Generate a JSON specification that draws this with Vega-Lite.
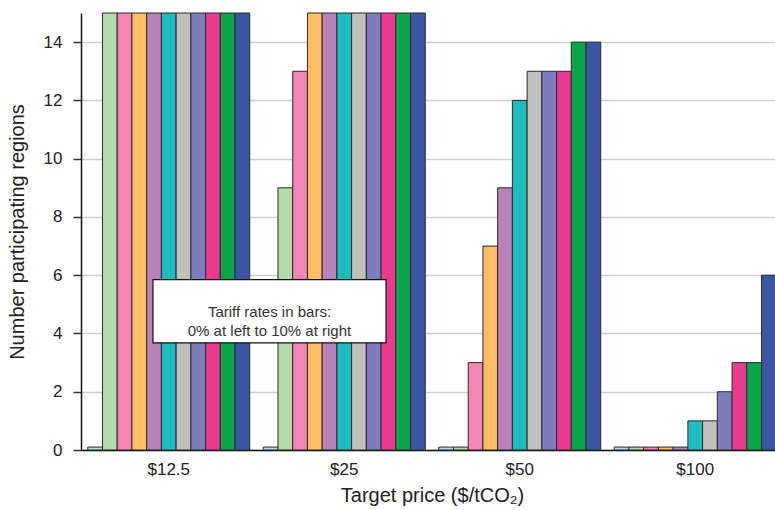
{
  "$schema": "https://vega.github.io/schema/vega-lite/v6.json",
  "width": 694,
  "height": 437,
  "autosize": {"type": "none"},
  "padding": {"left": 81, "top": 13, "right": 0, "bottom": 60},
  "background": "white",
  "config": {"font": "Liberation Sans", "view": {"stroke": null}},
  "resolve": {"scale": {"x": "independent"}},
  "layer": [
    {
      "data": {
        "values": [
          {"price": "$12.5", "tariff": "0%", "regions": 0.1},
          {"price": "$12.5", "tariff": "1%", "regions": 15},
          {"price": "$12.5", "tariff": "2%", "regions": 15},
          {"price": "$12.5", "tariff": "3%", "regions": 15},
          {"price": "$12.5", "tariff": "4%", "regions": 15},
          {"price": "$12.5", "tariff": "5%", "regions": 15},
          {"price": "$12.5", "tariff": "6%", "regions": 15},
          {"price": "$12.5", "tariff": "7%", "regions": 15},
          {"price": "$12.5", "tariff": "8%", "regions": 15},
          {"price": "$12.5", "tariff": "9%", "regions": 15},
          {"price": "$12.5", "tariff": "10%", "regions": 15},
          {"price": "$25", "tariff": "0%", "regions": 0.1},
          {"price": "$25", "tariff": "1%", "regions": 9},
          {"price": "$25", "tariff": "2%", "regions": 13},
          {"price": "$25", "tariff": "3%", "regions": 15},
          {"price": "$25", "tariff": "4%", "regions": 15},
          {"price": "$25", "tariff": "5%", "regions": 15},
          {"price": "$25", "tariff": "6%", "regions": 15},
          {"price": "$25", "tariff": "7%", "regions": 15},
          {"price": "$25", "tariff": "8%", "regions": 15},
          {"price": "$25", "tariff": "9%", "regions": 15},
          {"price": "$25", "tariff": "10%", "regions": 15},
          {"price": "$50", "tariff": "0%", "regions": 0.1},
          {"price": "$50", "tariff": "1%", "regions": 0.1},
          {"price": "$50", "tariff": "2%", "regions": 3},
          {"price": "$50", "tariff": "3%", "regions": 7},
          {"price": "$50", "tariff": "4%", "regions": 9},
          {"price": "$50", "tariff": "5%", "regions": 12},
          {"price": "$50", "tariff": "6%", "regions": 13},
          {"price": "$50", "tariff": "7%", "regions": 13},
          {"price": "$50", "tariff": "8%", "regions": 13},
          {"price": "$50", "tariff": "9%", "regions": 14},
          {"price": "$50", "tariff": "10%", "regions": 14},
          {"price": "$100", "tariff": "0%", "regions": 0.1},
          {"price": "$100", "tariff": "1%", "regions": 0.1},
          {"price": "$100", "tariff": "2%", "regions": 0.1},
          {"price": "$100", "tariff": "3%", "regions": 0.1},
          {"price": "$100", "tariff": "4%", "regions": 0.1},
          {"price": "$100", "tariff": "5%", "regions": 1},
          {"price": "$100", "tariff": "6%", "regions": 1},
          {"price": "$100", "tariff": "7%", "regions": 2},
          {"price": "$100", "tariff": "8%", "regions": 3},
          {"price": "$100", "tariff": "9%", "regions": 3},
          {"price": "$100", "tariff": "10%", "regions": 6}
        ]
      },
      "mark": {"type": "bar", "stroke": "#2a2a2a", "strokeWidth": 1},
      "encoding": {
        "x": {
          "field": "price",
          "type": "nominal",
          "sort": ["$12.5", "$25", "$50", "$100"],
          "scale": {"range": [0, 702], "paddingInner": 0.077, "paddingOuter": 0.0385},
          "axis": {
            "title": "Target price ($/tCO₂)",
            "titleFont": "Liberation Sans",
            "titleFontSize": 20,
            "titleFontWeight": "normal",
            "titleColor": "#222",
            "titlePadding": 8,
            "labelFontSize": 17,
            "labelColor": "#222",
            "labelAngle": 0,
            "labelPadding": 11,
            "ticks": false,
            "tickSize": 0,
            "domainColor": "#111",
            "domainWidth": 1.5
          }
        },
        "xOffset": {
          "field": "tariff",
          "type": "nominal",
          "sort": ["0%", "1%", "2%", "3%", "4%", "5%", "6%", "7%", "8%", "9%", "10%"],
          "scale": {"paddingInner": 0, "paddingOuter": 0}
        },
        "y": {
          "field": "regions",
          "type": "quantitative",
          "scale": {"domain": [0, 15], "nice": false},
          "axis": {
            "title": "Number participating regions",
            "titleFontSize": 20,
            "titleFontWeight": "normal",
            "titleColor": "#222",
            "titlePadding": 16,
            "values": [0, 2, 4, 6, 8, 10, 12, 14],
            "labelFontSize": 17,
            "labelColor": "#222",
            "labelPadding": 11,
            "tickSize": 8,
            "tickColor": "#333",
            "tickWidth": 1.5,
            "domainColor": "#111",
            "domainWidth": 1.5,
            "gridColor": "#cfcfcf",
            "gridWidth": 1.5
          }
        },
        "color": {
          "field": "tariff",
          "type": "nominal",
          "scale": {
            "domain": ["0%", "1%", "2%", "3%", "4%", "5%", "6%", "7%", "8%", "9%", "10%"],
            "range": ["#acdce8", "#b4dcaa", "#f386b5", "#fdbe64", "#b983b9", "#1fbcbe", "#c0c0bf", "#7b7eba", "#ea3a90", "#0aa44b", "#3a55a4"]
          },
          "legend": null
        }
      }
    },
    {
      "data": {"values": [{"note": "Tariff rates in bars:\n0% at left to 10% at right"}]},
      "mark": {"type": "rect", "fill": "white", "stroke": "#111", "strokeWidth": 1.2},
      "encoding": {
        "x": {"datum": 0.91, "type": "quantitative", "scale": {"domain": [0.5, 4.4544], "nice": false, "zero": false}, "axis": null},
        "x2": {"datum": 2.238},
        "y": {"datum": 5.85, "type": "quantitative"},
        "y2": {"datum": 3.68}
      }
    },
    {
      "data": {"values": [{"note": "Tariff rates in bars:\n0% at left to 10% at right"}]},
      "mark": {"type": "text", "lineBreak": "\n", "fontSize": 15, "lineHeight": 19, "color": "#333", "align": "center", "baseline": "middle"},
      "encoding": {
        "x": {"datum": 1.574, "type": "quantitative", "scale": {"domain": [0.5, 4.4544], "nice": false, "zero": false}, "axis": null},
        "y": {"datum": 4.75, "type": "quantitative"},
        "text": {"field": "note"}
      }
    }
  ]
}
